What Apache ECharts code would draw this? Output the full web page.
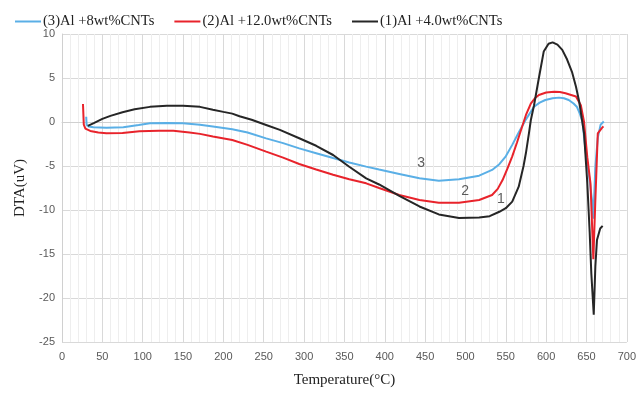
<!DOCTYPE html>
<html>
<head>
<meta charset="utf-8">
<script src="https://cdn.jsdelivr.net/npm/echarts@6/dist/echarts.min.js"></script>
<style>
html,body{margin:0;padding:0;background:#fff;}
#chart{width:639px;height:396px;}
</style>
</head>
<body>
<div id="chart"></div>
<script>
var seriesNames = ['(3)Al +8wt%CNTs', '(2)Al +12.0wt%CNTs', '(1)Al +4.0wt%CNTs'];

var blue3 = [[30,0.6],[30.5,-0.3],[33,-0.5],[39,-0.6],[55,-0.65],[76,-0.6],[95,-0.35],[109,-0.15],[130,-0.1],[150,-0.15],[171,-0.3],[187,-0.5],[211,-0.83],[230,-1.2],[253,-1.86],[274,-2.4],[294,-3.0],[315,-3.55],[336,-4.1],[356,-4.6],[377,-5.07],[393,-5.4],[418,-5.9],[443,-6.4],[467,-6.67],[492,-6.5],[517,-6.1],[533,-5.45],[542,-4.8],[550,-3.9],[558,-2.6],[566,-1.2],[575,0.3],[585,1.74],[592,2.2],[599,2.5],[608,2.7],[616,2.77],[622,2.7],[628,2.5],[634,2.1],[638,1.74],[642,0.9],[645,0.03],[649,-3.4],[653,-6],[657,-9],[658.5,-11],[661,-5.1],[664,-1.8],[667.5,-0.3],[671.5,0.05]];

var red2 = [[26,2.05],[27,-0.3],[29,-0.75],[35,-1.02],[45,-1.2],[55,-1.29],[75,-1.25],[96,-1.05],[120,-1.0],[138,-1.0],[158,-1.2],[171,-1.35],[187,-1.65],[211,-2.05],[230,-2.6],[253,-3.37],[274,-4.05],[294,-4.77],[315,-5.4],[336,-6.0],[356,-6.5],[377,-6.97],[393,-7.5],[418,-8.3],[443,-8.86],[467,-9.17],[492,-9.17],[517,-8.86],[533,-8.3],[540,-7.6],[546,-6.6],[552,-5.3],[558,-3.9],[564,-2.3],[570,-0.6],[575,0.8],[581,2.1],[586,2.7],[591,3.07],[600,3.35],[610,3.45],[617,3.4],[624,3.26],[630,3.1],[637,2.9],[643,1.9],[647,0],[651,-4],[655,-7],[658.5,-15.6],[661,-8.9],[664,-1.3],[669,-0.7],[671,-0.5]];

var black1 = [[32,-0.45],[40,-0.1],[50,0.35],[60,0.7],[75,1.1],[90,1.45],[109,1.72],[130,1.85],[150,1.85],[171,1.72],[187,1.4],[200,1.15],[211,0.95],[220,0.65],[235,0.25],[253,-0.34],[270,-0.9],[294,-1.85],[315,-2.7],[336,-3.75],[356,-5.08],[377,-6.4],[393,-7.1],[418,-8.4],[443,-9.6],[467,-10.5],[492,-10.9],[517,-10.85],[530,-10.7],[542,-10.2],[550,-9.8],[558,-9.05],[566,-7.35],[572,-5],[575,-3.5],[579,-1.1],[581,0.2],[585,1.9],[591,5],[597,8],[603,8.9],[608,9.05],[614,8.8],[620,8.2],[626,7.1],[632,5.7],[637,4],[641,2.3],[644,0.5],[647,-1.3],[651,-6.9],[654,-12.6],[656,-17.2],[659,-21.9],[661,-16.4],[663,-13.4],[667,-12.1],[670,-11.8]];

var curveLabels = ['3', '2', '1'];
var curveLabelPos = [[445,-4.7],[499.5,-7.84],[543.8,-8.8]];

var colors = ['#5aafe6', '#e8232b', '#262626'];

var chart = echarts.init(document.getElementById('chart'), null, {renderer:'canvas'});
var serifFont = '"Liberation Serif","Times New Roman",serif';
var sansFont = '"Liberation Sans",Arial,sans-serif';

var option = {
  animation: false,
  backgroundColor: '#ffffff',
  color: colors,
  legend: {
    top: 9,
    left: 10,
    itemWidth: 26,
    itemHeight: 2,
    itemGap: 20,
    icon: 'rect',
    textStyle: {fontFamily: serifFont, fontSize: 14.6, color: '#222', padding: [0, 0, 0, -3]},
    data: seriesNames
  },
  grid: {left: 62, right: 11, top: 34, bottom: 54},
  xAxis: {
    type: 'value',
    min: 0, max: 700, interval: 50,
    name: 'Temperature(°C)',
    nameLocation: 'middle',
    nameGap: 31,
    nameTextStyle: {fontFamily: serifFont, fontSize: 15, color: '#222'},
    axisLine: {show: true, lineStyle: {color: '#d0d0d0'}},
    axisTick: {show: false},
    axisLabel: {fontFamily: sansFont, fontSize: 11, color: '#595959', margin: 9},
    splitLine: {show: true, lineStyle: {color: '#d9d9d9', width: 1}},
    minorTick: {show: false, splitNumber: 5},
    minorSplitLine: {show: true, lineStyle: {color: '#eeeeee', width: 1}}
  },
  yAxis: {
    type: 'value',
    min: -25, max: 10, interval: 5,
    name: 'DTA(uV)',
    nameLocation: 'middle',
    nameGap: 34,
    nameTextStyle: {fontFamily: serifFont, fontSize: 15, color: '#222'},
    axisLine: {show: true, lineStyle: {color: '#d0d0d0'}},
    axisTick: {show: false},
    axisLabel: {fontFamily: sansFont, fontSize: 11, color: '#595959', margin: 7},
    splitLine: {show: true, lineStyle: {color: '#d9d9d9', width: 1}}
  },
  series: [
    {name: seriesNames[0], type: 'line', data: blue3, showSymbol: false, symbol: 'none',
     lineStyle: {width: 2, color: colors[0]}, itemStyle: {color: colors[0]}},
    {name: seriesNames[1], type: 'line', data: red2, showSymbol: false, symbol: 'none',
     lineStyle: {width: 2, color: colors[1]}, itemStyle: {color: colors[1]}},
    {name: seriesNames[2], type: 'line', data: black1, showSymbol: false, symbol: 'none',
     lineStyle: {width: 2, color: colors[2]}, itemStyle: {color: colors[2]}},
    {type: 'scatter', symbolSize: 0, silent: true,
     data: curveLabelPos.map(function(p, i){ return {value: p, name: curveLabels[i]}; }),
     label: {show: true, position: 'inside', formatter: '{b}', fontFamily: sansFont, fontSize: 14, color: '#333'}}
  ]
};
chart.setOption(option);
</script>
</body>
</html>
